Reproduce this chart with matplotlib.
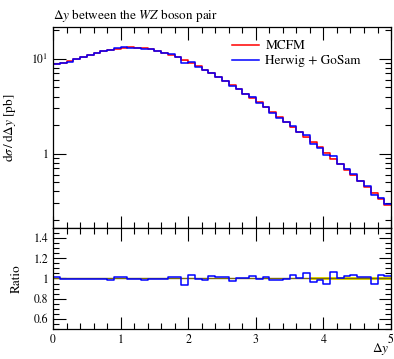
import numpy as np
import matplotlib
matplotlib.use("Agg")
import matplotlib.pyplot as plt
from matplotlib.ticker import FixedLocator, MultipleLocator, NullFormatter, LogLocator

plt.rcParams['font.family'] = ['STIXGeneral', 'DejaVu Serif']
plt.rcParams['mathtext.fontset'] = 'stix'

# ---------------------------------------- #
#                 Data                     #
# ---------------------------------------- #
bin_edges = np.round(np.arange(0, 5.01, 0.1), 2)

mcfm = [8.8, 9.0, 9.4, 9.9, 10.4, 11.0, 11.5, 12.0, 12.5, 12.8,
        13.1, 13.2, 13.1, 12.9, 12.6, 12.1, 11.6, 11.0, 10.4, 9.6,
        9.0, 8.3, 7.6, 7.0, 6.4, 5.8, 5.3, 4.8, 4.3, 3.9,
        3.47, 3.08, 2.73, 2.42, 2.14, 1.90, 1.68, 1.49, 1.32, 1.17,
        1.02, 0.89, 0.78, 0.68, 0.59, 0.515, 0.45, 0.39, 0.335, 0.29]

# Herwig + GoSam / MCFM
ratio = [1.01, 0.997, 0.995, 0.995, 0.995, 0.998, 0.995, 0.995, 0.985, 1.01,
         1.01, 0.995, 0.997, 0.99, 0.997, 0.997, 0.997, 1.01, 1.01, 0.94,
         1.03, 0.997, 0.99, 1.02, 1.013, 1.015, 0.975, 1.0, 1.0, 1.025,
         0.997, 1.01, 0.99, 0.99, 0.997, 1.03, 1.0, 1.05, 0.97, 0.99,
         0.95, 1.067, 1.0, 1.025, 1.03, 1.013, 1.013, 0.945, 1.03, 1.02]

# relative MC uncertainty of MCFM (yellow band)
mcfm_relerr = [0.004, 0.004, 0.004, 0.004, 0.004, 0.004, 0.004, 0.004, 0.004, 0.004,
               0.004, 0.004, 0.004, 0.004, 0.004, 0.004, 0.004, 0.004, 0.004, 0.005,
               0.005, 0.005, 0.005, 0.005, 0.005, 0.006, 0.006, 0.006, 0.006, 0.006,
               0.007, 0.007, 0.007, 0.008, 0.008, 0.008, 0.009, 0.009, 0.010, 0.010,
               0.011, 0.011, 0.012, 0.012, 0.013, 0.013, 0.014, 0.015, 0.016, 0.017]

mcfm = np.array(mcfm)
ratio = np.array(ratio)
relerr = np.array(mcfm_relerr)
herwig = mcfm * ratio


def steps(vals):
    return np.append(vals, vals[-1])


# ---------------------------------------- #
#                 Figure                   #
# ---------------------------------------- #
fig = plt.figure(figsize=(3.94, 3.59), dpi=100)
ax = fig.add_axes([0.1345, 0.3649, 0.858, 0.5599])
rax = fig.add_axes([0.1345, 0.0836, 0.858, 0.2813])

# main panel
ax.fill_between(bin_edges, steps(mcfm * (1 - relerr)), steps(mcfm * (1 + relerr)),
                step='post', color='#ff9a9a', lw=0)
ax.fill_between(bin_edges, steps(herwig * (1 - relerr)), steps(herwig * (1 + relerr)),
                step='post', color='#9a9aff', lw=0, alpha=0.8)
ax.step(bin_edges, steps(mcfm), where='post', color='#ff0000', lw=1.1, label='MCFM')
ax.step(bin_edges, steps(herwig), where='post', color='#0000ff', lw=1.1, label='Herwig + GoSam')

ax.set_yscale('log')
ax.set_xlim(0, 5)
ax.set_ylim(0.165, 21.6)
ax.yaxis.set_major_locator(FixedLocator([1, 10]))
ax.yaxis.set_minor_locator(LogLocator(base=10, subs=np.arange(2, 10)))
ax.yaxis.set_minor_formatter(NullFormatter())
ax.set_yticklabels(['1', '$10^1$'])
ax.xaxis.set_major_locator(MultipleLocator(1))
ax.xaxis.set_minor_locator(MultipleLocator(0.2))
ax.tick_params(axis='x', labelbottom=False)
ax.set_ylabel(r'$\mathrm{d}\sigma\,/\,\mathrm{d}\Delta y$ [pb]', fontsize=9.5, labelpad=9)
ax.set_title(r'$\Delta y$ between the $WZ$ boson pair', fontsize=9.5, loc='left', pad=6)
ax.legend(loc='upper right', frameon=False, fontsize=9.5, handlelength=2.0,
          handletextpad=0.5, borderaxespad=0.6, labelspacing=0.2,
          bbox_to_anchor=(0.95, 1.0))

# ratio panel
rax.fill_between(bin_edges, steps(1 - relerr), steps(1 + relerr), step='post',
                 color='#f0e800', lw=0)
rax.step(bin_edges, steps(np.ones_like(ratio)), where='post', color='#7a6a10', lw=1.0)
rax.step(bin_edges, steps(ratio), where='post', color='#0000ff', lw=1.1)
rax.set_xlim(0, 5)
rax.set_ylim(0.5, 1.5)
rax.yaxis.set_major_locator(FixedLocator([0.6, 0.8, 1.0, 1.2, 1.4]))
rax.set_yticklabels(['0.6', '0.8', '1', '1.2', '1.4'])
rax.yaxis.set_minor_locator(MultipleLocator(0.05))
rax.xaxis.set_major_locator(MultipleLocator(1))
rax.xaxis.set_minor_locator(MultipleLocator(0.2))
rax.set_ylabel('Ratio', fontsize=9.5, labelpad=8)
rax.set_xlabel(r'$\Delta y$', fontsize=9.5, ha='right', va='top')
rax.xaxis.set_label_coords(0.995, -0.115)

for a in (ax, rax):
    a.tick_params(which='both', direction='in', top=True, right=True, labelsize=8.5)
    a.tick_params(which='major', length=9, width=0.8)
    a.tick_params(which='minor', length=4.5, width=0.8)
    for s in a.spines.values():
        s.set_linewidth(0.9)

plt.savefig('out.png', dpi=100)
